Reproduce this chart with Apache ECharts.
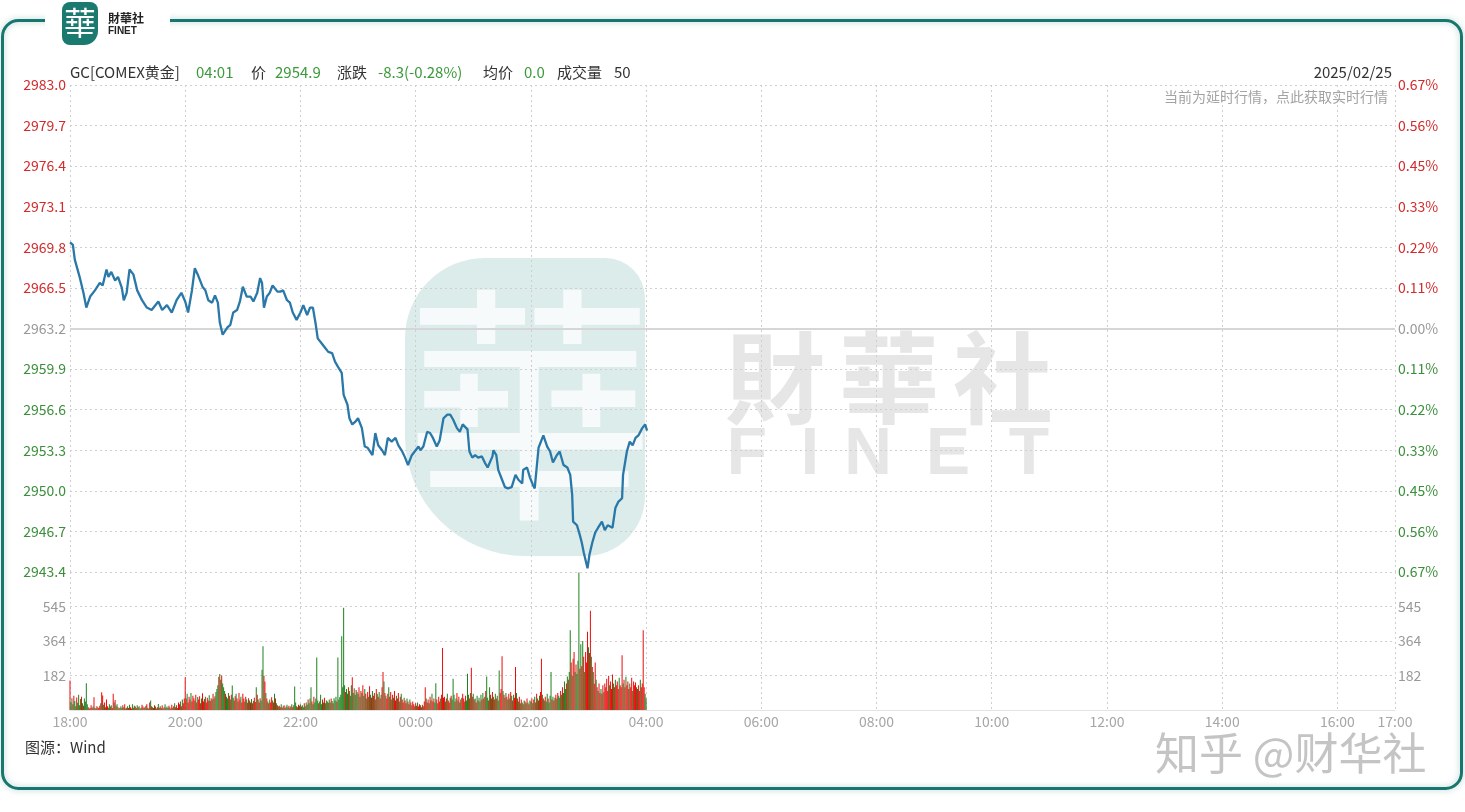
<!DOCTYPE html>
<html><head><meta charset="utf-8">
<script src="https://cdn.jsdelivr.net/npm/echarts@6.0.0/dist/echarts.min.js"></script>
<style>html,body{margin:0;padding:0;background:#fff}#c{width:1465px;height:812px}</style>
</head><body><div id="c"></div>
<script>
// ---------- DATA ----------
const symbolName = 'GC[COMEX黄金]';
const lastTime = '04:01';
const lastPrice = '2954.9';
const changeText = '-8.3(-0.28%)';
const avgPrice = '0.0';
const lastVolume = '50';
const tradeDate = '2025/02/25';
const prevClose = 2963.2;
const priceAxisMin = 2943.4, priceAxisMax = 2983.0, priceAxisStep = 3.3;
const volAxisMax = 727, volAxisStep = 181.75;
const sessionStartHour = 18, sessionMinutes = 1380;
const timeTickLabels = ['18:00','20:00','22:00','00:00','02:00','04:00','06:00','08:00','10:00','12:00','14:00','16:00','17:00'];

// minutes since 18:00
const priceMin = [0,3,5,10,14,17,21,26,31,34,38,40,43,47,50,54,56,59,62,66,70,75,80,85,92,96,101,106,111,116,
120,123,127,130,133,138,141,144,148,151,154,156,159,164,167,170,174,177,180,184,188,191,195,198,200,202,205,208,211,216,
219,222,226,229,232,236,240,243,247,250,253,256,258,263,266,269,273,276,279,283,285,289,291,294,297,300,304,307,310,315,
318,321,325,328,331,335,339,342,346,349,352,356,359,363,365,368,372,375,378,382,385,389,393,396,399,403,406,409,414,416,
419,422,425,429,432,435,440,441,444,446,450,453,456,460,464,467,471,472,476,479,482,484,488,492,493,497,500,503,507,510,
514,518,521,523,524,528,531,533,535,539,541,544,547,550,554,557,560,565,568,571,575,576,580,583,586,589,592,596,599,601];
const priceVal = [2970.2,2970.0,2968.8,2967.4,2966.1,2964.9,2965.8,2966.3,2966.9,2966.7,
2968.0,2967.4,2967.8,2967.1,2967.4,2966.5,2965.5,2966.1,2968.0,2967.6,
2966.3,2965.5,2964.9,2964.7,2965.4,2964.7,2965.1,2964.5,2965.5,2966.1,
2965.4,2964.5,2966.3,2968.1,2967.6,2966.6,2966.3,2965.5,2965.3,2965.9,
2965.3,2963.7,2962.7,2963.3,2963.5,2964.5,2964.7,2965.4,2966.6,2965.8,
2965.8,2965.4,2966.1,2967.3,2966.9,2964.9,2965.8,2966.1,2966.7,2966.2,
2966.2,2966.3,2965.5,2965.3,2964.5,2963.9,2964.5,2965.1,2964.3,2964.9,
2964.9,2963.5,2962.4,2961.9,2961.6,2961.3,2961.2,2960.5,2960.1,2959.6,
2957.8,2957.0,2955.9,2955.4,2955.6,2955.9,2955.1,2953.6,2953.5,2952.9,
2954.7,2953.7,2953.3,2952.9,2954.3,2954.0,2954.3,2953.7,2953.2,2952.7,
2952.1,2952.9,2953.2,2953.6,2953.3,2953.6,2954.8,2954.7,2954.3,2953.6,
2954.1,2955.9,2956.2,2956.2,2955.8,2955.1,2954.8,2955.4,2955.0,2953.2,
2952.7,2952.9,2952.7,2952.8,2952.3,2951.9,2952.8,2953.3,2952.9,2951.7,
2950.9,2950.3,2950.2,2950.3,2951.3,2950.9,2950.6,2951.7,2951.9,2951.1,
2950.5,2950.2,2953.5,2954.3,2954.5,2953.6,2953.2,2952.3,2952.9,2953.2,
2952.1,2951.9,2951.3,2949.7,2947.5,2947.2,2946.4,2945.8,2945.0,2943.7,
2944.8,2945.8,2946.6,2947.0,2947.5,2946.8,2947.2,2947.0,2948.6,2949.1,
2949.4,2951.3,2953.2,2954.0,2953.7,2954.3,2954.5,2955.1,2955.4,2954.9];

// one-minute volumes from 18:00
const volumes = [
155,40,62,30,75,48,20,66,38,80,25,58,70,35,22,60,45,141,30,15,8,12,25,10,18,67,12,8,20,15,
10,22,35,94,76,28,40,15,55,20,12,30,18,25,10,85,40,53,22,30,15,8,12,20,10,25,15,30,8,12,
20,10,28,15,8,30,12,22,18,10,25,15,20,8,12,28,18,10,15,22,30,12,8,40,50,20,15,10,25,18,
8,15,32,12,20,10,25,8,15,30,12,18,10,22,15,8,28,12,20,35,15,25,10,40,30,45,20,55,35,60,
173,60,85,40,70,55,90,45,75,62,50,80,40,68,55,72,35,60,88,45,58,70,40,65,50,78,48,62,55,85,
60,72,95,110,130,175,190,160,182,140,120,100,85,70,60,90,75,55,80,129,65,50,72,85,60,45,90,55,70,40,
85,60,45,70,55,38,62,50,40,58,35,48,65,42,120,80,55,40,62,50,212,336,180,150,90,60,45,35,55,40,
67,50,40,85,60,35,25,18,22,15,30,12,20,25,10,18,28,15,22,12,20,30,15,25,124,40,20,15,28,22,
30,18,25,15,35,20,40,28,55,35,60,120,45,30,70,40,60,276,50,35,45,80,30,55,40,65,35,50,45,38,
55,40,60,48,35,62,50,70,45,276,55,68,80,389,120,539,130,95,110,85,120,100,75,130,173,90,115,80,105,95,
85,120,70,100,90,130,75,110,85,60,95,70,125,80,65,100,75,90,55,110,85,70,95,60,80,120,200,150,90,75,
60,85,120,70,95,55,80,65,100,50,75,60,90,45,70,85,55,40,65,50,35,60,45,30,55,40,25,45,30,20,
35,22,40,18,30,25,15,28,20,45,120,60,40,55,35,70,50,85,45,60,40,141,55,35,70,45,60,80,327,65,
70,45,60,85,50,40,65,75,55,164,80,45,60,90,50,70,40,55,65,85,60,45,75,50,191,80,60,90,223,70,
85,55,60,40,75,50,65,45,80,55,90,60,70,100,177,65,50,120,80,60,95,70,55,85,60,75,50,208,90,110,
283,100,80,65,90,70,55,85,60,95,75,50,80,65,226,90,60,45,70,35,55,40,30,50,45,35,60,40,30,50,
45,60,35,55,70,40,85,60,50,75,95,270,80,60,50,70,45,85,60,40,75,200,55,70,50,65,80,60,90,75,
65,100,80,120,90,150,110,140,177,160,200,420,250,180,270,306,200,240,190,260,725,217,346,230,364,280,200,306,250,412,
330,300,523,280,226,200,138,250,160,120,100,140,90,110,85,130,95,140,120,164,100,180,130,150,110,187,140,120,160,130,
150,110,170,130,120,288,140,160,120,175,130,150,110,140,120,170,100,150,130,145,120,110,130,100,160,120,140,420,120,85,
60];
// r = minute closed up, g = minute closed down
const volumeSide = [
'rgggrggrgg','ggrgrggggr','rgrrgrgrrg', 'rrgrrgrgrr','ggrgrrgrgg','rgrggrgrgr',
'grgrrggrgr','grgggrrgrg','rggrgrgrrg', 'grgrgrrgrg','rggrgrrgrg','rrgrrgrgrr',
'rrgrrrgrrr','grrgrrrgrr','rgrrrgrrgr', 'grgggrggrg','ggrgggrgrg','grrgrgrrgr',
'rrgrgrrgrg','rgrrgrgrrg','ggrrgrgrgr', 'rgrgrgrgrr','grgrgrggrg','rgrgggrgrg',
'grggrgggrg','ggrgrggggr','gggrgrgggr', 'ggrgrgggrg','gggggggrgg','rgggrgggrg',
'grgrgrggrg','rgrgrgrrgr','grgrgrrgrg', 'rrgrrgrgrr','grrgrgrrgr','rgrrgrgrrg',
'rrgrrgrrgr','rgrrgrrgrr','ggrgrrgrrr', 'rgrgrrgrgg','grgrgrgrgr','rgrgggrgrr',
'grgrgrgggr','grgrggrgrg','rgrgrgggrr', 'rgrrgrgrgr','grgrrgrgrg','rgrgrgrgrg',
'grgrgrrgrg','rrgrgrggrg','ggrgrgrgrg', 'grgrgggrgr','ggrgrrgrgg','grgrgrgrrr',
'grrgrgrrgr','grrgrrgrrr','rrgrrrgrgr', 'rrgrrrgrrg','rrrgrrgrrr','grrrgrrrrg',
'g'].join('');

// ---------- CHART ----------
const UP = '#d12b2b', DOWN = '#3b8f3b', FLAT = '#999999';
const FONT = '"Noto Sans CJK SC", "Noto Sans", sans-serif';
const chart = echarts.init(document.getElementById('c'), null, {renderer: 'canvas'});

const priceData = priceMin.map((m, i) => [m, priceVal[i]]);
const volData = volumes.map((v, i) => ({
  value: [i, v],
  itemStyle: {color: volumeSide[i] === 'r' ? '#ee0a0a' : '#1d821d'}
}));

function timeLabel(m) {
  const idx = timeTickLabels.findIndex(t => {
    const h = parseInt(t, 10);
    const off = (h - sessionStartHour + 24) % 24 * 60;
    return Math.abs(off - m) < 1;
  });
  return idx >= 0 ? timeTickLabels[idx] : '';
}
function priceColor(v) {
  if (v > prevClose + 0.05) return UP;
  if (v < prevClose - 0.05) return DOWN;
  return FLAT;
}
const dotted = {type: [2, 3], color: '#cfcfcf', width: 1};

const headerParts = [
  {t: symbolName, x: 70, c: '#333'},
  {t: lastTime, x: 196, c: '#3a9a3a'},
  {t: '价', x: 251, c: '#333'},
  {t: lastPrice, x: 275, c: '#3a9a3a'},
  {t: '涨跌', x: 337, c: '#333'},
  {t: changeText, x: 378, c: '#3a9a3a'},
  {t: '均价', x: 483, c: '#333'},
  {t: avgPrice, x: 524, c: '#3a9a3a'},
  {t: '成交量', x: 557, c: '#333'},
  {t: lastVolume, x: 614, c: '#333'}
];

const graphics = [
  // center watermark
  {type: 'rect', z: 0, silent: true, shape: {x: 405, y: 258, width: 240, height: 298, r: [80, 40, 60, 120]},
   style: {fill: '#dbeceb'}},
  {type: 'text', z: 0, silent: true, style: {text: '華', x: 530, y: 405, align: 'center', verticalAlign: 'middle',
   font: '250px "Noto Sans CJK TC"', fill: '#ffffff', opacity: 0.75}},
  {type: 'text', z: 0, silent: true, style: {text: '財', x: 775, y: 378, align: 'center', verticalAlign: 'middle', font: 'bold 100px "Noto Sans CJK TC"', fill: '#e6e6e6'}},
  {type: 'text', z: 0, silent: true, style: {text: '華', x: 889, y: 378, align: 'center', verticalAlign: 'middle', font: 'bold 100px "Noto Sans CJK TC"', fill: '#e6e6e6'}},
  {type: 'text', z: 0, silent: true, style: {text: '社', x: 1003, y: 378, align: 'center', verticalAlign: 'middle', font: 'bold 100px "Noto Sans CJK TC"', fill: '#e6e6e6'}},
  ...[['F', 747], ['I', 810], ['N', 868], ['E', 948], ['T', 1029]].map(([ch, x]) => ({
    type: 'text', z: 0, silent: true,
    style: {text: ch, x: x, y: 456, align: 'center', verticalAlign: 'middle', font: 'bold 66px "Liberation Sans"', fill: '#e6e6e6'}
  })),
  // frame
  {type: 'rect', z: 10, silent: true, shape: {x: 2.5, y: 20.5, width: 1459, height: 768, r: 16},
   style: {fill: 'none', stroke: '#17776e', lineWidth: 3, shadowBlur: 6, shadowColor: 'rgba(23,119,110,0.35)'}},
  {type: 'rect', z: 11, silent: true, shape: {x: 45, y: 12, width: 125, height: 16}, style: {fill: '#fff'}},
  // logo
  {type: 'rect', z: 12, silent: true, shape: {x: 62, y: 2, width: 36, height: 43, r: [8, 8, 14, 8]}, style: {fill: '#1b7a70'}},
  {type: 'text', z: 13, silent: true, style: {text: '華', x: 80, y: 23, align: 'center', verticalAlign: 'middle', font: '32px "Noto Sans CJK TC"', fill: '#fff'}},
  {type: 'text', z: 13, silent: true, style: {text: '財華社', x: 108, y: 18, verticalAlign: 'middle', font: 'bold 12px "Noto Sans CJK TC"', fill: '#222'}},
  {type: 'text', z: 13, silent: true, style: {text: 'FINET', x: 108, y: 31, verticalAlign: 'middle', font: 'bold 10px "Liberation Sans"', fill: '#222'}},
  // header
  ...headerParts.map(p => ({type: 'text', z: 13, silent: true,
    style: {text: p.t, x: p.x, y: 72, verticalAlign: 'middle', font: '15px ' + FONT, fill: p.c}})),
  {type: 'text', z: 13, silent: true, style: {text: tradeDate, x: 1392, y: 72, align: 'right', verticalAlign: 'middle', font: '15px ' + FONT, fill: '#333'}},
  {type: 'text', z: 13, silent: true, style: {text: '当前为延时行情，点此获取实时行情', x: 1388, y: 97, align: 'right', verticalAlign: 'middle', font: '14px ' + FONT, fill: '#a3a3a3'}},
  {type: 'text', z: 13, silent: true, style: {text: '图源：Wind', x: 25, y: 747, verticalAlign: 'middle', font: '15px ' + FONT, fill: '#333'}},
  {type: 'text', z: 13, silent: true, style: {text: '知乎 @财华社', x: 1155, y: 753, verticalAlign: 'middle', font: '44px ' + FONT,
    fill: '#c4c4c4', textShadowColor: '#ffffff', textShadowOffsetX: 2, textShadowOffsetY: 2, textShadowBlur: 0}}
];

const option = {
  backgroundColor: '#ffffff',
  animation: false,
  textStyle: {fontFamily: FONT},
  graphic: {elements: graphics},
  grid: [
    {left: 70, width: 1325, top: 85, height: 487},
    {left: 70, width: 1325, top: 572, height: 138}
  ],
  xAxis: [
    {type: 'value', gridIndex: 0, min: 0, max: sessionMinutes, interval: 120,
     axisLine: {show: false}, axisTick: {show: false}, axisLabel: {show: false},
     splitLine: {show: true, lineStyle: dotted}},
    {type: 'value', gridIndex: 1, min: 0, max: sessionMinutes, interval: 120,
     axisLine: {show: true, lineStyle: {color: '#e3e3e3', width: 1}}, axisTick: {show: false},
     axisLabel: {show: true, formatter: timeLabel, color: '#a6a6a6', fontSize: 14, margin: 5, fontFamily: FONT,
                 showMinLabel: true, showMaxLabel: true},
     splitLine: {show: true, lineStyle: dotted}}
  ],
  yAxis: [
    {type: 'value', gridIndex: 0, position: 'left', min: priceAxisMin, max: priceAxisMax, interval: priceAxisStep,
     axisLine: {show: false}, axisTick: {show: false},
     axisLabel: {formatter: v => v.toFixed(1), color: v => priceColor(v), fontSize: 14, margin: 4, fontFamily: FONT},
     splitLine: {show: true, lineStyle: dotted}},
    {type: 'value', gridIndex: 0, position: 'right', min: priceAxisMin, max: priceAxisMax, interval: priceAxisStep,
     axisLine: {show: false}, axisTick: {show: false},
     axisLabel: {formatter: v => Math.abs((v - prevClose) / prevClose * 100).toFixed(2) + '%', color: v => priceColor(v),
                 fontSize: 14, margin: 3, fontFamily: FONT},
     splitLine: {show: false}},
    {type: 'value', gridIndex: 1, position: 'left', min: 0, max: volAxisMax, interval: volAxisStep,
     axisLine: {show: false}, axisTick: {show: false},
     axisLabel: {formatter: v => (v <= 0 || v >= volAxisMax - 1) ? '' : Math.round(v).toString(), color: '#999', fontSize: 14, margin: 4, fontFamily: FONT},
     splitLine: {show: true, lineStyle: dotted}},
    {type: 'value', gridIndex: 1, position: 'right', min: 0, max: volAxisMax, interval: volAxisStep,
     axisLine: {show: false}, axisTick: {show: false},
     axisLabel: {formatter: v => (v <= 0 || v >= volAxisMax - 1) ? '' : Math.round(v).toString(), color: '#999', fontSize: 14, margin: 3, fontFamily: FONT},
     splitLine: {show: false}}
  ],
  series: [
    {type: 'line', xAxisIndex: 0, yAxisIndex: 0, data: priceData, showSymbol: false, symbol: 'none', z: 5,
     lineStyle: {color: '#2a78a8', width: 2.3}, silent: true,
     markLine: {silent: true, symbol: 'none', label: {show: false},
       lineStyle: {type: 'solid', color: '#d6d6d6', width: 2}, data: [{yAxis: prevClose}]}},
    {type: 'bar', xAxisIndex: 1, yAxisIndex: 2, data: volData, barWidth: 1, silent: true, z: 5}
  ]
};
chart.setOption(option);
</script></body></html>
